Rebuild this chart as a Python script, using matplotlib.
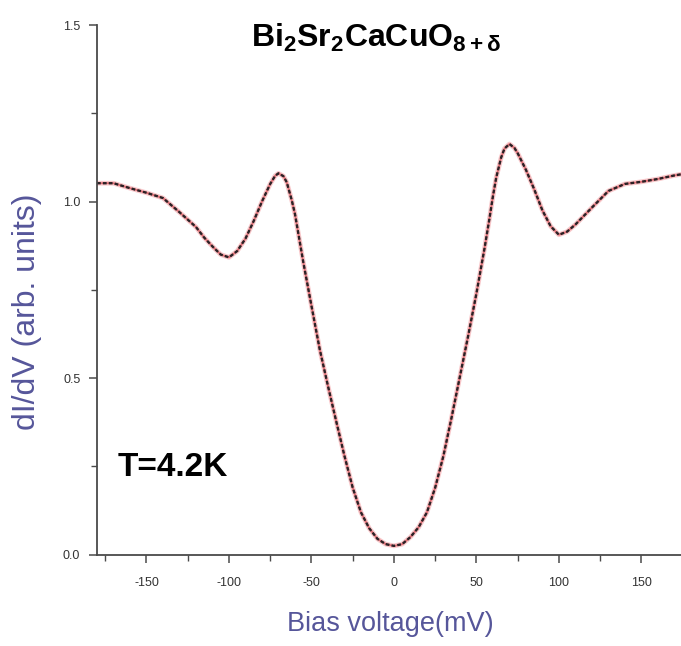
import numpy as np
import matplotlib
matplotlib.use("Agg")
import matplotlib.pyplot as plt
from matplotlib.ticker import MultipleLocator

plt.rcParams["font.family"] = ["Liberation Sans", "DejaVu Sans"]
plt.rcParams["axes.unicode_minus"] = False
plt.rcParams["mathtext.fontset"] = "custom"
plt.rcParams["mathtext.rm"] = "Liberation Sans:bold"
plt.rcParams["mathtext.it"] = "Liberation Sans:bold"
plt.rcParams["mathtext.bf"] = "Liberation Sans:bold"

# tunneling spectrum
bias_mv = [-180, -170, -160, -150, -140, -130, -120, -115, -110, -105, -100, -95,
           -90, -85, -80, -75, -72, -70, -67, -65, -62, -60, -55, -50, -45, -40, -35,
           -30, -25, -20, -15, -10, -5, 0, 5, 10, 15, 20, 25, 30, 35, 40, 45, 50,
           55, 58, 60, 62, 65, 67, 70, 73, 75, 80, 85, 90, 95, 100, 105, 110, 120,
           130, 140, 150, 160, 170, 175]
didv = [1.052, 1.052, 1.038, 1.025, 1.010, 0.970, 0.928, 0.898, 0.873, 0.850, 0.842, 0.860,
        0.895, 0.945, 1.000, 1.050, 1.073, 1.080, 1.072, 1.055, 1.005, 0.965, 0.830, 0.705, 0.582,
        0.478, 0.378, 0.280, 0.190, 0.120, 0.075, 0.045, 0.030, 0.025, 0.030, 0.050, 0.078, 0.120,
        0.190, 0.280, 0.390, 0.505, 0.620, 0.740, 0.870, 0.955, 1.015, 1.068, 1.125, 1.150, 1.163,
        1.152, 1.137, 1.090, 1.035, 0.975, 0.930, 0.906, 0.915, 0.935, 0.983, 1.030, 1.050, 1.056,
        1.064, 1.074, 1.078]

x_ticks = [-150, -100, -50, 0, 50, 100, 150]
y_ticks = [0.0, 0.5, 1.0, 1.5]

fig = plt.figure(figsize=(6.81, 6.46), dpi=100)
ax = fig.add_axes([0.1424, 0.1413, 0.8576, 0.82])

# red halo under a dark dotted trace
ax.plot(bias_mv, didv, color="#e8444c", lw=3.4, alpha=0.3, solid_capstyle="round")
ax.plot(bias_mv, didv, color="#d03038", lw=1.3, alpha=0.6)
ax.plot(bias_mv, didv, color="#2a2226", lw=1.7, ls=(0, (1.6, 0.9)))

ax.set_xlim(-180, 174)
ax.set_ylim(0, 1.5)
ax.set_xticks(x_ticks)
ax.set_yticks(y_ticks)
ax.set_yticklabels(["0.0", "0.5", "1.0", "1.5"])
ax.xaxis.set_minor_locator(MultipleLocator(25))
ax.yaxis.set_minor_locator(MultipleLocator(0.25))

for side in ["top", "right"]:
    ax.spines[side].set_visible(False)
for side in ["left", "bottom"]:
    ax.spines[side].set_color("#4a4a4a")
    ax.spines[side].set_linewidth(1.3)

ax.tick_params(which="major", direction="out", length=6, width=1.1,
               color="#4a4a4a", labelsize=9, labelcolor="#333333", pad=10)
ax.tick_params(which="minor", direction="out", length=4, width=1.0, color="#4a4a4a")
ax.tick_params(axis="y", pad=6)

label_color = "#56569a"
ax.set_xlabel("Bias voltage(mV)", fontsize=19.5, color=label_color)
ax.set_ylabel("dI/dV (arb. units)", fontsize=23, color=label_color)
ax.xaxis.set_label_coords(0.502, -0.106)
ax.yaxis.set_label_coords(-0.094, 0.458)

ax.text(0.478, 0.975, r"$\mathrm{Bi_2Sr_2CaCuO_{8+\delta}}$", transform=ax.transAxes,
        ha="center", va="center", fontsize=23, color="black")
ax.text(0.130, 0.164, "T=4.2K", transform=ax.transAxes, ha="center", va="center",
        fontsize=24, fontweight="bold", color="black")

fig.savefig("out.png", dpi=100)
